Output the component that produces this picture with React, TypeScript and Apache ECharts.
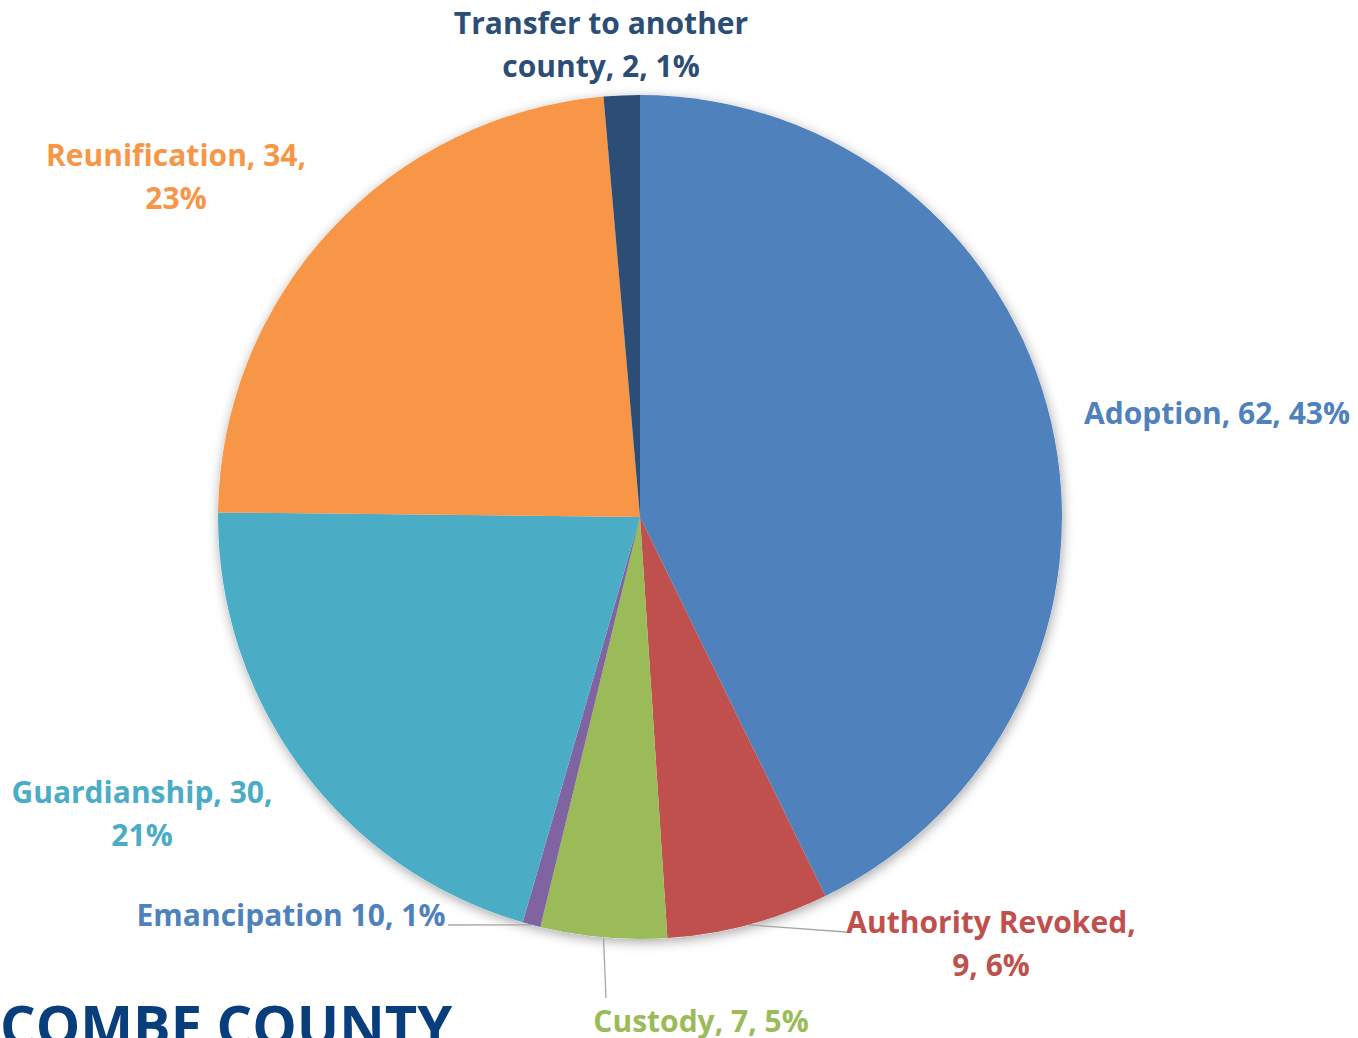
import React, { useEffect, useRef } from 'react';
import * as echarts from 'echarts';

// ---- data ----
const categories = [
  'Adoption',
  'Authority Revoked',
  'Custody',
  'Emancipation',
  'Guardianship',
  'Reunification',
  'Transfer to another county',
];
const values = [62, 9, 7, 1, 30, 34, 2];
const labelTexts = [
  'Adoption, 62, 43%',
  'Authority Revoked,\n9, 6%',
  'Custody, 7, 5%',
  'Emancipation 10, 1%',
  'Guardianship, 30,\n21%',
  'Reunification, 34,\n23%',
  'Transfer to another\ncounty, 2, 1%',
];
const footerText = 'COMBE COUNTY';

// ---- styles / layout ----
const sliceColors = ['#4F81BD', '#C0504D', '#9BBB59', '#8064A2', '#4BACC6', '#F79646', '#2C4D75'];
const labelColors = ['#4F81BD', '#C0504D', '#9BBB59', '#4F81BD', '#4BACC6', '#F79646', '#2C4D75'];
const CENTER = [640, 517];
const RADIUS = 422;
const labelPlacement: { x: number; y: number; lineEnd?: number[] }[] = [
  { x: 1217, y: 412 },
  { x: 991, y: 943, lineEnd: [846, 932] },
  { x: 701, y: 1020, lineEnd: [606, 998] },
  { x: 291, y: 914, lineEnd: [448, 925] },
  { x: 142, y: 813 },
  { x: 176, y: 176 },
  { x: 601, y: 44 },
];

function sliceEdgePoint(i: number): number[] {
  const total = values.reduce((a, b) => a + b, 0);
  let cum = 0;
  for (let k = 0; k < i; k++) cum += values[k];
  const t = ((cum + values[i] / 2) / total) * Math.PI * 2;
  return [CENTER[0] + RADIUS * Math.sin(t), CENTER[1] - RADIUS * Math.cos(t)];
}

export default function App() {
  const ref = useRef<HTMLDivElement>(null);
  useEffect(() => {
    if (!ref.current) return;
    const chart = echarts.init(ref.current, undefined, { renderer: 'svg' });
    const mainData = categories.map((name, i) => ({
      name,
      value: values[i],
      itemStyle: { color: sliceColors[i] },
      label: { color: labelColors[i] },
      labelLine: { show: !!labelPlacement[i].lineEnd },
    }));
    const shadowData = categories.map((name, i) => ({ name, value: values[i] }));
    chart.setOption({
      animation: false,
      backgroundColor: '#ffffff',
      series: [
        {
          type: 'pie',
          silent: true,
          z: 1,
          center: CENTER,
          radius: RADIUS,
          startAngle: 90,
          clockwise: true,
          data: shadowData,
          itemStyle: {
            color: '#ffffff',
            shadowBlur: 12,
            shadowColor: 'rgba(0,0,0,0.35)',
            shadowOffsetX: 1,
            shadowOffsetY: 3,
          },
          label: { show: false },
          labelLine: { show: false },
        },
        {
          type: 'pie',
          silent: true,
          z: 2,
          center: CENTER,
          radius: RADIUS,
          startAngle: 90,
          clockwise: true,
          avoidLabelOverlap: false,
          percentPrecision: 0,
          data: mainData,
          label: {
            show: true,
            position: 'outside',
            formatter: (p: any) => labelTexts[p.dataIndex],
            fontFamily: 'Open Sans',
            fontWeight: 'bold',
            fontSize: 30,
            lineHeight: 43,
            align: 'center',
          },
          labelLine: {
            show: true,
            length: 10,
            length2: 10,
            lineStyle: { color: '#A6A6A6', width: 1.3 },
          },
          labelLayout: (params: any) => {
            const pl = labelPlacement[params.dataIndex];
            const out: any = { x: pl.x, y: pl.y, align: 'center', verticalAlign: 'middle' };
            if (pl.lineEnd) {
              const start =
                params.labelLinePoints && params.labelLinePoints[0]
                  ? params.labelLinePoints[0]
                  : sliceEdgePoint(params.dataIndex);
              out.labelLinePoints = [start, pl.lineEnd];
            }
            return out;
          },
        },
      ],
      graphic: [
        {
          type: 'text',
          x: 0,
          y: 1024,
          silent: true,
          style: {
            text: footerText,
            font: 'bold 56px "Open Sans"',
            fill: '#073E7B',
            align: 'left',
            verticalAlign: 'middle',
          },
        },
      ],
    });
    return () => chart.dispose();
  }, []);
  return (
    <div
      ref={ref}
      style={{ position: 'absolute', left: 0, top: 0, width: 1358, height: 1038 }}
    />
  );
}
